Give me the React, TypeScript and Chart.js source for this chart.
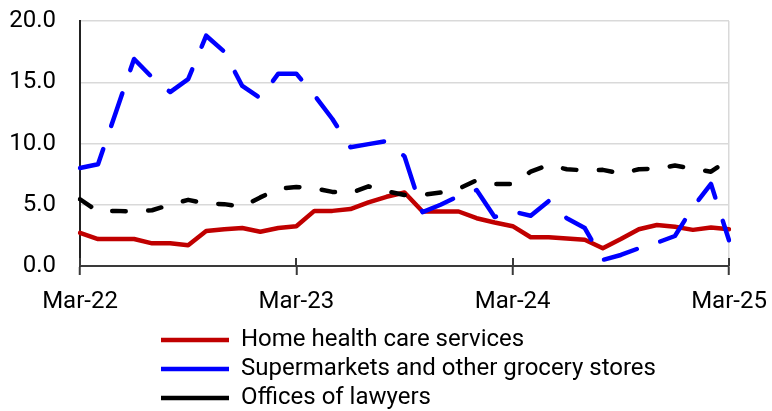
import React, { useEffect, useRef } from 'react';
import { Chart, registerables } from 'chart.js';

Chart.register(...registerables);

const months = [
  'Mar-22', 'Apr-22', 'May-22', 'Jun-22', 'Jul-22', 'Aug-22', 'Sep-22', 'Oct-22', 'Nov-22', 'Dec-22', 'Jan-23', 'Feb-23',
  'Mar-23', 'Apr-23', 'May-23', 'Jun-23', 'Jul-23', 'Aug-23', 'Sep-23', 'Oct-23', 'Nov-23', 'Dec-23', 'Jan-24', 'Feb-24',
  'Mar-24', 'Apr-24', 'May-24', 'Jun-24', 'Jul-24', 'Aug-24', 'Sep-24', 'Oct-24', 'Nov-24', 'Dec-24', 'Jan-25', 'Feb-25',
  'Mar-25',
];

const homeHealth = [
  2.7, 2.2, 2.2, 2.2, 1.85, 1.85, 1.7, 2.85, 3.0, 3.1, 2.8, 3.1,
  3.25, 4.5, 4.5, 4.65, 5.2, 5.65, 6.0, 4.45, 4.45, 4.45, 3.9, 3.55,
  3.25, 2.35, 2.35, 2.25, 2.15, 1.45, 2.2, 3.0, 3.35, 3.2, 2.95, 3.15,
  3.0,
];

const supermarkets = [
  8.0, 8.3, 12.6, 16.9, 15.4, 14.2, 15.25, 18.8, 17.5, 14.7, 13.7, 15.7,
  15.7, 13.95, 12.0, 9.7, 9.95, 10.2, 8.95, 4.4, 5.0, 5.7, 6.2, 4.0,
  4.45, 4.1, 5.3, 3.9, 3.1, 0.5, 0.9, 1.45, 1.9, 2.45, 4.8, 6.7,
  2.1,
];

const lawyers = [
  5.45, 4.45, 4.5, 4.45, 4.55, 5.0, 5.4, 5.1, 5.05, 4.85, 5.6, 6.3,
  6.45, 6.35, 6.05, 5.95, 6.5, 6.1, 5.8, 5.8, 6.0, 6.3, 7.0, 6.7,
  6.7, 7.7, 8.25, 7.9, 7.8, 7.85, 7.55, 7.9, 7.95, 8.2, 7.95, 7.7,
  8.7,
];

const seriesNames = ['Home health care services', 'Supermarkets and other grocery stores', 'Offices of lawyers'];
const yMin = 0;
const yMax = 20;
const yStep = 5;
const labelEvery = 12;

export default function App() {
  const ref = useRef<HTMLCanvasElement>(null);

  useEffect(() => {
    if (!ref.current) return;
    const FONT = 'Roboto, "Liberation Sans", sans-serif';
    const AXIS = '#3a3a3a';
    const GRID = '#d9d9d9';

    const shiftLegend = {
      id: 'shiftLegend',
      afterLayout(chart: any) {
        const lg = chart.legend;
        if (lg) {
          const dx = 156 - lg.left;
          lg.left += dx;
          lg.right += dx;
        }
      },
    };

    const crossTicks = {
      id: 'crossTicks',
      afterDatasetsDraw(chart: any) {
        const sx = chart.scales.x;
        const ctx = chart.ctx;
        ctx.save();
        ctx.strokeStyle = AXIS;
        ctx.lineWidth = 2;
        for (let i = 0; i < months.length; i += labelEvery) {
          const px = Math.round(sx.getPixelForTick(i));
          ctx.beginPath();
          ctx.moveTo(px, sx.top - 8);
          ctx.lineTo(px, sx.top);
          ctx.stroke();
        }
        ctx.restore();
      },
    };

    const chart = new Chart(ref.current, {
      type: 'line',
      data: {
        labels: months,
        datasets: [
          {
            label: seriesNames[0],
            data: homeHealth,
            borderColor: '#c00000',
            backgroundColor: '#c00000',
            borderWidth: 4.5,
            borderCapStyle: 'round',
            borderJoinStyle: 'round',
            pointRadius: 0,
            tension: 0,
            fill: false,
            order: 3,
          },
          {
            label: seriesNames[1],
            data: supermarkets,
            borderColor: '#0000ff',
            backgroundColor: '#0000ff',
            borderWidth: 4.5,
            borderDash: [34.5, 24.5],
            borderCapStyle: 'round',
            borderJoinStyle: 'round',
            pointRadius: 0,
            tension: 0,
            fill: false,
            order: 2,
          },
          {
            label: seriesNames[2],
            data: lawyers,
            borderColor: '#000000',
            backgroundColor: '#000000',
            borderWidth: 4.5,
            borderDash: [13.5, 22.5],
            borderCapStyle: 'round',
            borderJoinStyle: 'round',
            pointRadius: 0,
            tension: 0,
            fill: false,
            order: 1,
          },
        ],
      },
      options: {
        responsive: false,
        animation: false,
        devicePixelRatio: 1,
        layout: { padding: { left: 0, right: 43, top: 21, bottom: 0 } },
        font: { family: FONT, size: 24 },
        color: '#000',
        scales: {
          x: {
            type: 'category',
            offset: false,
            afterFit: (s: any) => {
              s.height = 57;
              s.paddingLeft = 0;
              s.paddingRight = 0;
            },
            border: { display: true, color: AXIS, width: 2 },
            grid: {
              drawOnChartArea: true,
              drawTicks: true,
              tickLength: 9,
              tickWidth: 2,
              lineWidth: 1.5,
              color: (c: any) => (c.index === months.length - 1 ? GRID : 'rgba(0,0,0,0)'),
              tickColor: (c: any) => (c.index % labelEvery === 0 ? AXIS : 'rgba(0,0,0,0)'),
            },
            ticks: {
              autoSkip: false,
              maxRotation: 0,
              minRotation: 0,
              padding: 13,
              color: '#000',
              font: { family: FONT, size: 24 },
              callback: (_v: any, i: number) => (i % labelEvery === 0 ? months[i] : ''),
            },
          },
          y: {
            min: yMin,
            max: yMax,
            afterFit: (s: any) => {
              s.width = 80;
              s.paddingTop = 0;
              s.paddingBottom = 0;
            },
            border: { display: true, color: '#222', width: 2 },
            grid: { color: GRID, lineWidth: 1.5, drawTicks: false },
            ticks: {
              stepSize: yStep,
              padding: 24,
              color: '#000',
              font: { family: FONT, size: 24 },
              callback: (v: any) => Number(v).toFixed(1),
            },
          },
        },
        plugins: {
          title: { display: false },
          tooltip: { enabled: false },
          legend: {
            display: true,
            position: 'bottom',
            align: 'start',
            fullSize: false,
            labels: {
              usePointStyle: true,
              pointStyle: 'line',
              pointStyleWidth: 68,
              padding: 5,
              color: '#000',
              font: { family: FONT, size: 24 },
              sort: (a: any, b: any) => a.datasetIndex - b.datasetIndex,
            },
          },
        },
      },
      plugins: [shiftLegend, crossTicks],
    } as any);

    return () => chart.destroy();
  }, []);

  return (
    <div style={{ position: 'fixed', left: 0, top: 0, width: 772, height: 420, background: '#fff' }}>
      <canvas ref={ref} width={772} height={420} style={{ width: 772, height: 420, display: 'block' }} />
    </div>
  );
}
